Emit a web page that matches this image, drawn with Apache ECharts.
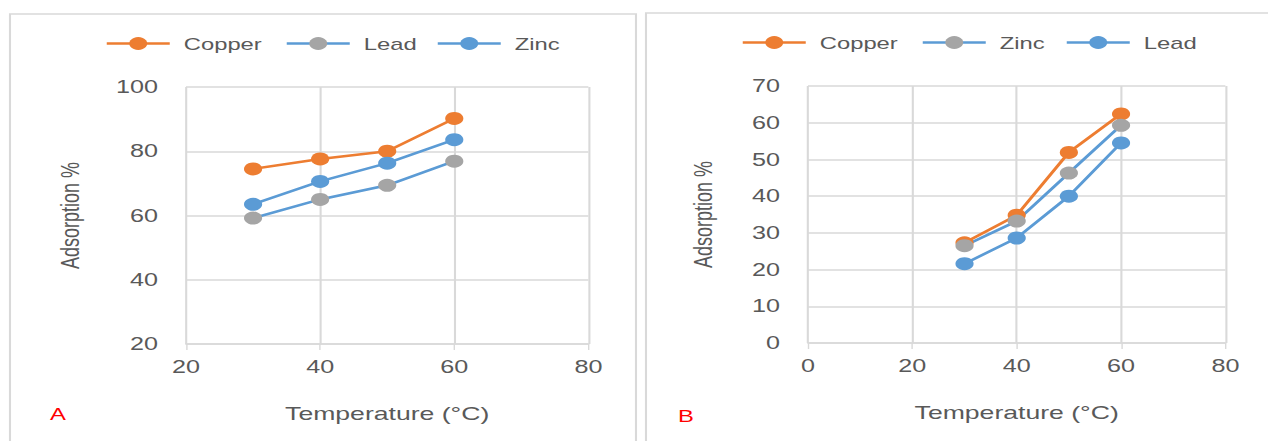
<!DOCTYPE html>
<html>
<head>
<meta charset="utf-8">
<script src="https://cdn.jsdelivr.net/npm/echarts@6/dist/echarts.min.js"></script>
<style>
html,body{margin:0;padding:0;background:#fff;overflow:hidden;}
#chart{width:905.714px;height:441px;transform:scaleX(1.4);transform-origin:0 0;}
</style>
</head>
<body>
<div id="chart"></div>
<script>
// ---- data ----
const temperatures = [30, 40, 50, 60];
// Panel A
const copperA = [74.5, 77.6, 80.0, 90.2];
const leadA   = [59.2, 65.0, 69.4, 76.9];
const zincA   = [63.5, 70.6, 76.3, 83.6];
// Panel B
const copperB = [27.3, 34.8, 51.9, 62.4];
const zincB   = [26.5, 33.2, 46.3, 59.3];
const leadB   = [21.6, 28.6, 40.0, 54.5];
// ticks
const xTicksA = [20, 40, 60, 80];
const yTicksA = [20, 40, 60, 80, 100];
const xTicksB = [0, 20, 40, 60, 80];
const yTicksB = [0, 10, 20, 30, 40, 50, 60, 70];
const panelLabels = ['A', 'B'];
const xTitle = 'Temperature (°C)';
const yTitle = 'Adsorption %';

// ---- styling ----
const S = 1.4;               // horizontal stretch applied by CSS
const X = v => v / S;
const ORANGE = '#ED7D31', BLUE = '#5B9BD5', GRAY = '#A5A5A5';
const TXT = '#595959', GRID = '#D9D9D9';
const FONT = '"Liberation Sans", Arial, sans-serif';

const pairs = arr => temperatures.map((t, i) => [t, arr[i]]);

function mkSeries(name, data, lineColor, markColor, idx) {
  return {
    type: 'line', name, data: pairs(data),
    xAxisIndex: idx, yAxisIndex: idx,
    symbol: 'circle', symbolSize: 13,
    lineStyle: { color: lineColor, width: 2.5 },
    itemStyle: { color: markColor },
    emphasis: { disabled: true },
    animation: false
  };
}

function mkX(idx, ticks) {
  return {
    type: 'value', gridIndex: idx,
    min: ticks[0], max: ticks[ticks.length - 1], interval: ticks[1] - ticks[0],
    name: xTitle, nameLocation: 'middle', nameGap: 60,
    nameTextStyle: { color: TXT, fontFamily: FONT, fontSize: 19 },
    axisLine: { show: true, lineStyle: { color: GRID, width: 1.5 } },
    axisTick: { show: true, length: 6, lineStyle: { color: GRID } },
    axisLabel: { color: TXT, fontFamily: FONT, fontSize: 18, margin: 14 },
    splitLine: { show: true, lineStyle: { color: GRID, width: 1.5 } }
  };
}
function mkY(idx, ticks, gap) {
  return {
    type: 'value', gridIndex: idx,
    min: ticks[0], max: ticks[ticks.length - 1], interval: ticks[1] - ticks[0],
    name: yTitle, nameLocation: 'middle', nameGap: gap,
    nameTextStyle: { color: TXT, fontFamily: FONT, fontSize: 18 },
    axisLine: { show: false }, axisTick: { show: false },
    axisLabel: { color: TXT, fontFamily: FONT, fontSize: 18, margin: X(28) },
    splitLine: { show: true, lineStyle: { color: GRID, width: 1.5 } }
  };
}

function mkLegend(name, lineColor, markColor, leftRef, top) {
  return {
    data: [{ name, itemStyle: { color: markColor }, lineStyle: { color: lineColor, width: 2.5 } }],
    left: X(leftRef), top, padding: 0,
    itemWidth: X(63), itemHeight: 16,
    selectedMode: false,
    textStyle: { color: TXT, fontFamily: FONT, fontSize: 17, padding: [0, 0, 0, 5] }
  };
}

const chart = echarts.init(document.getElementById('chart'), null, { renderer: 'svg' });
chart.setOption({
  backgroundColor: '#fff',
  animation: false,
  grid: [
    { left: X(186), right: X(1268 - 588), top: 87, bottom: 97 },
    { left: X(808), right: X(1268 - 1225), top: 86, bottom: 98 }
  ],
  xAxis: [mkX(0, xTicksA), mkX(1, xTicksB)],
  yAxis: [mkY(0, yTicksA, X(103)), mkY(1, yTicksB, X(92))],
  legend: [
    mkLegend('Copper', ORANGE, ORANGE, 105, 35),
    mkLegend('Lead', BLUE, GRAY, 285, 35),
    mkLegend('Zinc', BLUE, BLUE, 436, 35),
    mkLegend('Copper', ORANGE, ORANGE, 741, 34),
    mkLegend('Zinc', BLUE, GRAY, 921, 34),
    mkLegend('Lead', BLUE, BLUE, 1065, 34)
  ],
  series: [
    mkSeries('Copper', copperA, ORANGE, ORANGE, 0),
    mkSeries('Lead', leadA, BLUE, GRAY, 0),
    mkSeries('Zinc', zincA, BLUE, BLUE, 0),
    mkSeries('Copper', copperB, ORANGE, ORANGE, 1),
    mkSeries('Zinc', zincB, BLUE, GRAY, 1),
    mkSeries('Lead', leadB, BLUE, BLUE, 1)
  ],
  graphic: [
    { type: 'rect', shape: { x: X(10), y: 14, width: X(626), height: 460 },
      style: { fill: 'none', stroke: GRID, lineWidth: 1.5 }, silent: true },
    { type: 'rect', shape: { x: X(646), y: 13, width: X(640), height: 460 },
      style: { fill: 'none', stroke: GRID, lineWidth: 1.5 }, silent: true },
    { type: 'text', x: X(58), y: 414,
      style: { text: panelLabels[0], fill: '#FF0000', font: '17px ' + FONT, align: 'center', verticalAlign: 'middle' } },
    { type: 'text', x: X(686), y: 416,
      style: { text: panelLabels[1], fill: '#FF0000', font: '17px ' + FONT, align: 'center', verticalAlign: 'middle' } }
  ]
});
</script>
</body>
</html>
